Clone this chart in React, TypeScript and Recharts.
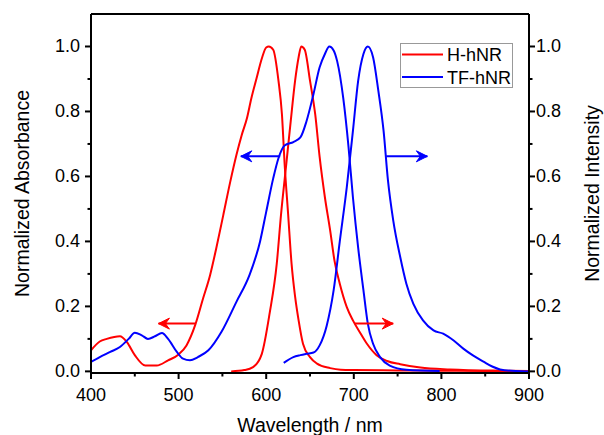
import React from 'react';
import { LineChart, Line, XAxis, YAxis, Legend, ReferenceLine } from 'recharts';

// H-hNR absorbance (red, left axis)
const hAbsX = [400, 410, 418, 433, 441, 450, 462, 475, 488, 500, 509, 519, 528, 536, 543, 551, 559, 566, 572, 578, 583, 589, 595, 600, 603, 608, 614, 618, 621, 625, 629, 633, 637, 642, 650, 658, 673, 685, 700, 750, 800, 850, 900];
const hAbsY = [0.065, 0.092, 0.1, 0.108, 0.09, 0.05, 0.018, 0.018, 0.034, 0.052, 0.08, 0.143, 0.225, 0.297, 0.379, 0.481, 0.584, 0.666, 0.727, 0.779, 0.84, 0.902, 0.963, 0.997, 1.0, 0.99, 0.895, 0.79, 0.64, 0.485, 0.33, 0.23, 0.157, 0.085, 0.044, 0.024, 0.01, 0.005, 0.004, 0.003, 0.002, 0.001, 0.001];

// H-hNR emission (red, right axis)
const hEmX = [560, 575, 585, 595, 604, 612, 617, 623, 628, 633, 637, 640, 644, 650, 656, 661, 667, 673, 678, 684, 692, 699, 707, 715, 726, 738, 753, 776, 810, 867, 900];
const hEmY = [0, 0.004, 0.013, 0.054, 0.18, 0.33, 0.485, 0.64, 0.77, 0.895, 0.967, 1.0, 0.99, 0.895, 0.79, 0.66, 0.536, 0.434, 0.34, 0.27, 0.198, 0.157, 0.12, 0.085, 0.05, 0.032, 0.022, 0.012, 0.006, 0.002, 0.001];

// TF-hNR absorbance (blue, left axis)
const tfAbsX = [400, 410, 422, 433, 443, 450, 458, 465, 473, 481, 488, 498, 505, 513, 522, 534, 549, 566, 581, 593, 600, 608, 614, 621, 631, 639, 646, 654, 661, 667, 672, 677, 681, 688, 694, 699, 705, 711, 716, 722, 730, 741, 760, 798];
const tfAbsY = [0.029, 0.044, 0.06, 0.075, 0.1, 0.119, 0.111, 0.1, 0.108, 0.118, 0.1, 0.06, 0.039, 0.034, 0.044, 0.065, 0.122, 0.214, 0.297, 0.4, 0.491, 0.594, 0.656, 0.695, 0.706, 0.72, 0.77, 0.854, 0.936, 0.977, 1.0, 0.988, 0.955, 0.84, 0.69, 0.536, 0.38, 0.25, 0.147, 0.085, 0.044, 0.018, 0.005, 0.001];

// TF-hNR emission (blue, right axis)
const tfEmX = [620, 631, 639, 646, 654, 661, 669, 677, 684, 692, 699, 705, 711, 716, 722, 728, 734, 739, 745, 753, 760, 768, 779, 791, 802, 814, 825, 836, 848, 858, 867, 885, 900];
const tfEmY = [0.026, 0.044, 0.05, 0.054, 0.058, 0.08, 0.14, 0.25, 0.4, 0.567, 0.74, 0.895, 0.977, 1.0, 0.967, 0.864, 0.74, 0.588, 0.465, 0.352, 0.27, 0.208, 0.157, 0.126, 0.116, 0.095, 0.07, 0.049, 0.03, 0.015, 0.006, 0.001, 0];

// arrows: [start x, end x, y]
const arrowRedLeft = [519, 477, 0.147];
const arrowRedRight = [701, 745, 0.147];
const arrowBlueLeft = [616, 571, 0.662];
const arrowBlueRight = [737, 784, 0.662];

const xTicks = [400, 450, 500, 550, 600, 650, 700, 750, 800, 850, 900];
const yTicks = [0, 0.1, 0.2, 0.3, 0.4, 0.5, 0.6, 0.7, 0.8, 0.9, 1.0];

const RED = '#ff0000';
const BLUE = '#0000ff';
const FONT = 'Arial, "Liberation Sans", sans-serif';

const toPoints = (xs: number[], ys: number[]) => xs.map((x, i) => ({ x, y: ys[i] }));
const arrowPoints = (a: number[]) => [{ x: a[0], y: a[2] }, { x: a[1], y: a[2] }];

const isMajorY = (v: number) => Math.round(v * 10) % 2 === 0;

const LeftTick = (props: any) => {
  const { x, y, payload } = props;
  const major = isMajorY(payload.value);
  return (
    <g>
      <line x1={x - (major ? 6 : 3.5)} x2={x} y1={y} y2={y} stroke="#000" strokeWidth={2} />
      {major && (
        <text x={x - 11} y={y} textAnchor="end" dominantBaseline="central" fontSize={18} fontFamily={FONT} fill="#000">
          {payload.value.toFixed(1)}
        </text>
      )}
    </g>
  );
};

const RightTick = (props: any) => {
  const { x, y, payload } = props;
  const major = isMajorY(payload.value);
  return (
    <g>
      <line x1={x} x2={x + (major ? 6 : 3.5)} y1={y} y2={y} stroke="#000" strokeWidth={2} />
      {major && (
        <text x={x + 7} y={y} textAnchor="start" dominantBaseline="central" fontSize={18} fontFamily={FONT} fill="#000">
          {payload.value.toFixed(1)}
        </text>
      )}
    </g>
  );
};

const BottomTick = (props: any) => {
  const { x, y, payload } = props;
  const major = payload.value % 100 === 0;
  return (
    <g>
      <line x1={x} x2={x} y1={y} y2={y + (major ? 6 : 3.5)} stroke="#000" strokeWidth={2} />
      {major && (
        <text x={x} y={y + 22} textAnchor="middle" dominantBaseline="central" fontSize={18} fontFamily={FONT} fill="#000">
          {payload.value}
        </text>
      )}
    </g>
  );
};

const arrowDot = (color: string, dir: number) => (p: any) => {
  const { cx, cy, index } = p;
  if (index !== 1) return <g key={`d${index}`} />;
  const d = `M${cx},${cy} L${cx - dir * 11},${cy - 5.5} L${cx - dir * 7},${cy} L${cx - dir * 11},${cy + 5.5} Z`;
  return <path key={`d${index}`} d={d} fill={color} stroke={color} strokeWidth={1} />;
};

const LegendBox = () => (
  <svg width={113} height={45}>
    <rect x={0.5} y={0.5} width={112} height={44} fill="#fff" stroke="#999" strokeWidth={1} />
    <line x1={2} x2={43} y1={11.5} y2={11.5} stroke={RED} strokeWidth={2} />
    <text x={47} y={12} dominantBaseline="central" fontSize={18} fontFamily={FONT} fill="#000">H-hNR</text>
    <line x1={2} x2={43} y1={34} y2={34} stroke={BLUE} strokeWidth={2} />
    <text x={47} y={34.5} dominantBaseline="central" fontSize={18} fontFamily={FONT} fill="#000">TF-hNR</text>
  </svg>
);

export default function App() {
  const arrows = [
    { key: 'arl', pts: arrowRedLeft, color: RED },
    { key: 'arr', pts: arrowRedRight, color: RED },
    { key: 'abl', pts: arrowBlueLeft, color: BLUE },
    { key: 'abr', pts: arrowBlueRight, color: BLUE },
  ];
  return (
    <div style={{ position: 'absolute', left: 0, top: 0, background: '#fff' }}>
      <LineChart width={604} height={435} margin={{ top: 14, right: 0, bottom: 0, left: 0 }}>
        <XAxis
          type="number"
          dataKey="x"
          domain={[400, 900]}
          ticks={xTicks}
          allowDataOverflow
          height={62}
          tickSize={0}
          tickMargin={0}
          tickLine={false}
          tick={<BottomTick />}
          axisLine={{ stroke: '#000', strokeWidth: 2 }}
          label={{ value: 'Wavelength / nm', position: 'insideBottom', offset: 3, style: { fontSize: 19.5, fontFamily: FONT, fill: '#000' } }}
        />
        <YAxis
          yAxisId="left"
          type="number"
          domain={[-0.005, 1.1]}
          ticks={yTicks}
          allowDataOverflow
          width={91}
          tickSize={0}
          tickMargin={0}
          tickLine={false}
          tick={<LeftTick />}
          axisLine={{ stroke: '#000', strokeWidth: 2 }}
          label={{ value: 'Normalized Absorbance', angle: -90, position: 'insideLeft', offset: 22, style: { textAnchor: 'middle', fontSize: 19.5, fontFamily: FONT, fill: '#000' } }}
        />
        <YAxis
          yAxisId="right"
          orientation="right"
          type="number"
          domain={[-0.005, 1.1]}
          ticks={yTicks}
          allowDataOverflow
          width={75}
          tickSize={0}
          tickMargin={0}
          tickLine={false}
          tick={<RightTick />}
          axisLine={{ stroke: '#000', strokeWidth: 2 }}
          label={{ value: 'Normalized Intensity', angle: -90, position: 'insideRight', offset: 12, style: { textAnchor: 'middle', fontSize: 19.5, fontFamily: FONT, fill: '#000' } }}
        />
        <ReferenceLine yAxisId="left" y={1.1} stroke="#000" strokeWidth={2} ifOverflow="visible" />
        <Line yAxisId="left" data={toPoints(hAbsX, hAbsY)} dataKey="y" name="H-hNR" type="monotone" stroke={RED} strokeWidth={2} dot={false} isAnimationActive={false} />
        <Line yAxisId="right" data={toPoints(hEmX, hEmY)} dataKey="y" name="H-hNR em" type="monotone" stroke={RED} strokeWidth={2} dot={false} isAnimationActive={false} />
        <Line yAxisId="left" data={toPoints(tfAbsX, tfAbsY)} dataKey="y" name="TF-hNR" type="monotone" stroke={BLUE} strokeWidth={2} dot={false} isAnimationActive={false} />
        <Line yAxisId="right" data={toPoints(tfEmX, tfEmY)} dataKey="y" name="TF-hNR em" type="monotone" stroke={BLUE} strokeWidth={2} dot={false} isAnimationActive={false} />
        {arrows.map((a) => (
          <Line
            key={a.key}
            yAxisId="left"
            data={arrowPoints(a.pts)}
            dataKey="y"
            type="linear"
            stroke={a.color}
            strokeWidth={2}
            dot={arrowDot(a.color, Math.sign(a.pts[1] - a.pts[0]))}
            activeDot={false}
            isAnimationActive={false}
          />
        ))}
        <Legend
          layout="horizontal"
          align="center"
          verticalAlign="middle"
          content={() => <LegendBox />}
          wrapperStyle={{ left: 400, top: 43, width: 113, height: 45, lineHeight: 0 }}
        />
      </LineChart>
    </div>
  );
}
